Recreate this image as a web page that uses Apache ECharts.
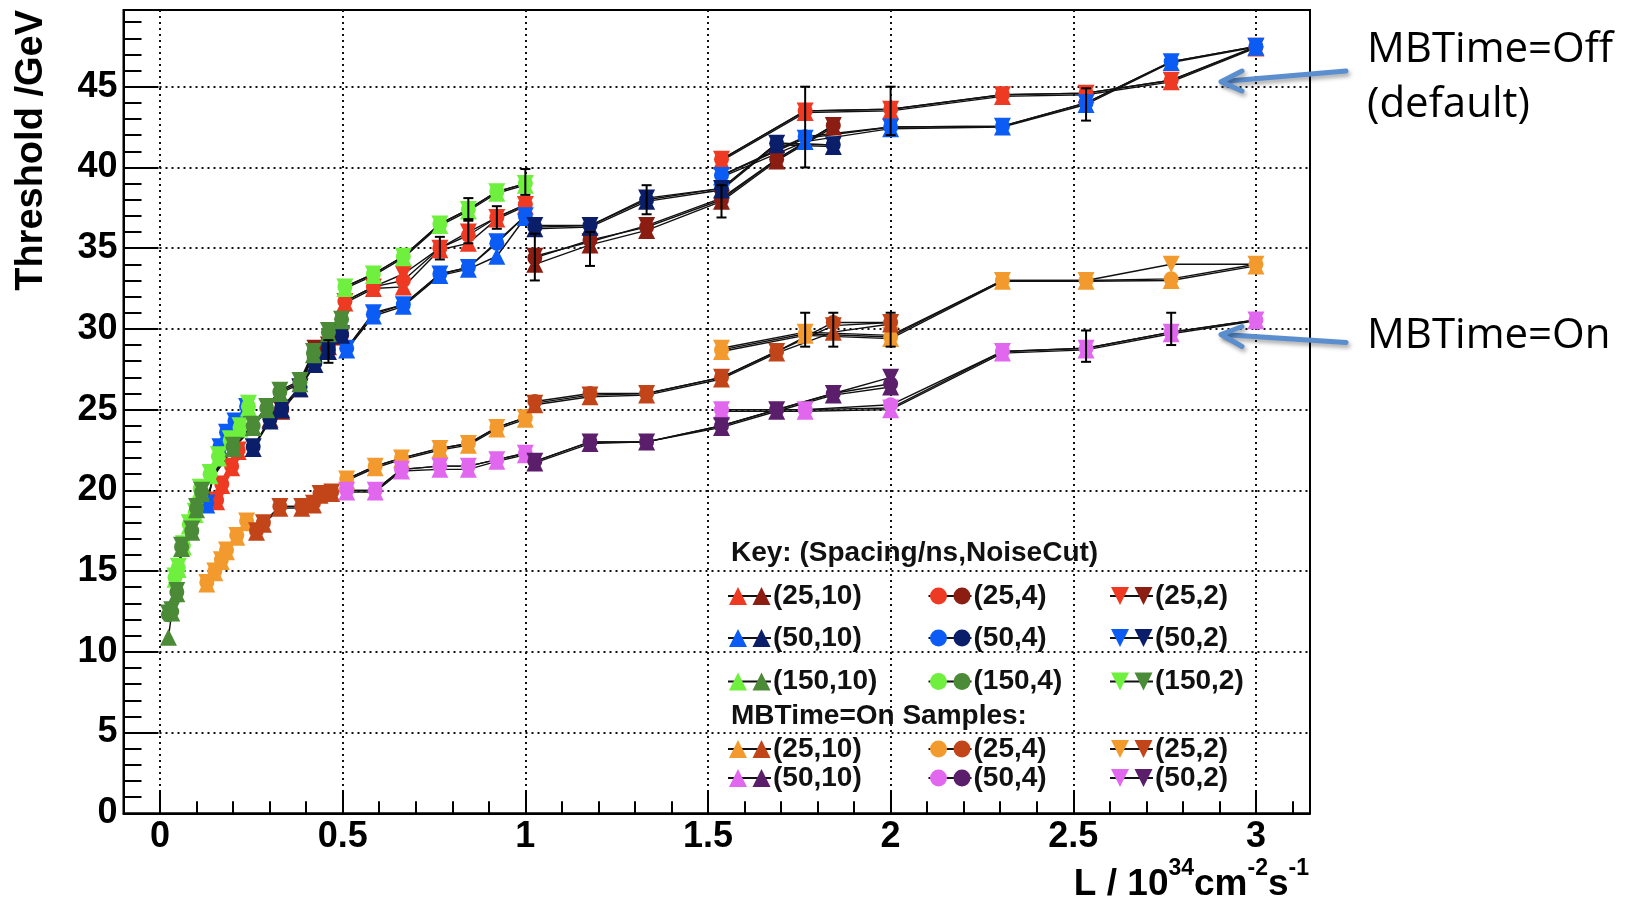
<!DOCTYPE html>
<html><head><meta charset="utf-8">
<script src="https://cdn.jsdelivr.net/npm/echarts@6/dist/echarts.min.js"></script>
<style>html,body{margin:0;padding:0;background:#fff;} #c{width:1627px;height:900px;}</style>
</head><body><div id="c"></div>
<script>
// ---------------- axis ticks ----------------
const xMajorTicks = [0, 0.5, 1, 1.5, 2, 2.5, 3];
const yMajorTicks = [0, 5, 10, 15, 20, 25, 30, 35, 40, 45];

// ---------------- MBTime=Off ----------------
// 25 ns, light (red)
const off25L_x    = [0.155, 0.169, 0.196, 0.214, null, 0.506, 0.584, 0.666, 0.766, 0.844, 0.922, 1.000, null, 1.537, 1.766, 2.000, 2.306, 2.535, 2.768, 3.000];
const off25L_up   = [19.3, 20.3, 21.4, 22.4, null, 31.6, 32.5, 32.6, 34.9, 35.3, 36.8, 37.6, null, 40.4, 43.4, 43.5, 44.4, 44.5, 45.3, 47.4];
const off25L_circ = [19.4, 20.4, 21.5, 22.5, null, 31.7, 32.6, 33.0, 35.0, 35.8, 36.9, 37.7, null, 40.5, 43.5, 43.6, 44.5, 44.6, 45.4, 47.45];
const off25L_down = [19.4, 20.4, 21.5, 22.5, null, 31.7, 32.6, 33.4, 35.0, 36.0, 36.9, 37.7, null, 40.5, 43.5, 43.6, 44.5, 44.6, 45.4, 47.5];
// 25 ns, dark (dark red)
const off25D_x    = [0.301, 0.333, 0.383, 0.424, 0.461, 0.497, null, 1.026, 1.177, 1.332, 1.537, 1.688, 1.843];
const off25D_up   = [24.4, 24.9, 26.3, 28.7, 28.9, 29.5, null, 34.0, 35.2, 36.1, 37.9, 40.4, 42.5];
const off25D_circ = [24.5, 25.0, 26.4, 28.8, 29.0, 29.6, null, 34.4, 35.5, 36.3, 38.0, 40.5, 42.6];
const off25D_down = [24.5, 25.0, 26.4, 28.8, 29.0, 29.6, null, 34.5, 35.4, 36.4, 38.1, 40.5, 42.6];
// 50 ns, light (blue)
const off50L_x    = [0.128, 0.164, 0.182, 0.205, 0.237, null, 0.511, 0.584, 0.666, 0.766, 0.844, 0.922, 1.000, null, 1.537, 1.766, 2.000, 2.306, 2.535, 2.768, 3.000];
const off50L_up   = [19.1, 22.6, 23.5, 24.2, 25.1, null, 28.7, 30.8, 31.4, 33.3, 33.7, 34.5, 36.9, null, 39.4, 41.6, 42.4, 42.5, 43.9, 46.5, 47.45];
const off50L_circ = [19.2, 22.7, 23.6, 24.3, 25.2, null, 28.8, 30.9, 31.5, 33.4, 33.8, 35.3, 37.0, null, 39.5, 41.9, 42.5, 42.55, 44.0, 46.55, 47.5];
const off50L_down = [19.2, 22.7, 23.6, 24.3, 25.2, null, 28.8, 31.0, 31.5, 33.4, 33.8, 35.4, 37.0, null, 39.5, 41.8, 42.5, 42.55, 44.0, 46.55, 47.5];
// 50 ns, dark (navy)
const off50D_x    = [0.255, 0.301, 0.333, 0.383, 0.424, 0.461, 0.497, null, 1.026, 1.177, 1.332, 1.537, 1.688, 1.843];
const off50D_up   = [22.6, 24.3, 25.0, 26.3, 27.8, 28.6, 29.6, null, 36.2, 36.3, 37.9, 38.6, 41.4, 41.3];
const off50D_circ = [22.7, 24.4, 25.1, 26.4, 27.9, 28.7, 29.7, null, 36.3, 36.4, 38.0, 38.7, 41.5, 41.4];
const off50D_down = [22.7, 24.4, 25.1, 26.4, 27.9, 28.7, 29.7, null, 36.4, 36.4, 38.1, 38.7, 41.5, 41.4];
// 150 ns, light (green)
const off150L_x    = [0.041, 0.050, 0.064, 0.080, 0.096, 0.110, 0.137, 0.160, 0.192, 0.219, 0.242, null, 0.506, 0.584, 0.666, 0.766, 0.844, 0.922, 1.000];
const off150L_up   = [14.5, 15.1, 16.5, 17.8, 18.5, 20.0, 20.9, 22.0, 23.0, 23.8, 25.1, null, 32.5, 33.3, 34.4, 36.4, 37.3, 38.4, 38.9];
const off150L_circ = [14.6, 15.2, 16.6, 17.9, 18.6, 20.1, 21.0, 22.1, 23.1, 23.9, 25.2, null, 32.6, 33.4, 34.5, 36.5, 37.4, 38.5, 39.0];
const off150L_down = [14.7, 15.3, 16.7, 18.0, 18.7, 20.2, 21.1, 22.2, 23.2, 24.0, 25.4, null, 32.6, 33.4, 34.5, 36.5, 37.4, 38.5, 39.0];
// 150 ns, dark (dark green)
const off150D_x    = [0.023, 0.032, 0.046, 0.059, 0.087, 0.100, 0.114, 0.200, 0.255, 0.292, 0.328, 0.383, 0.420, 0.461, 0.497];
const off150D_up   = [10.9, 12.4, 13.6, 16.4, 17.4, 18.8, 19.8, 22.6, 23.9, 25.0, 26.0, 26.6, 28.4, 29.7, 30.5];
const off150D_circ = [12.3, 12.5, 13.7, 16.5, 17.5, 18.9, 19.9, 22.7, 24.0, 25.1, 26.1, 26.7, 28.5, 29.8, 30.6];
const off150D_down = [12.4, 12.6, 13.8, 16.6, 17.6, 19.0, 20.0, 22.8, 24.1, 25.2, 26.2, 26.8, 28.6, 29.9, 30.6];

// ---------------- MBTime=On ----------------
// 25 ns, light (orange)
const on25L_x    = [0.128, 0.150, 0.168, 0.182, 0.210, 0.237, null, 0.511, 0.589, 0.661, 0.766, 0.844, 0.922, 1.000, null, 1.537, 1.766, 2.000, 2.306, 2.535, 2.768, 3.000];
const on25L_up   = [14.2, 14.9, 15.6, 16.2, 17.1, 18.0, null, 20.6, 21.4, 21.9, 22.5, 22.8, 23.8, 24.4, null, 28.6, 29.6, 29.4, 32.95, 32.95, 33.0, 33.9];
const on25L_circ = [14.3, 15.0, 15.7, 16.3, 17.2, 18.1, null, 20.7, 21.5, 22.0, 22.6, 22.9, 23.9, 24.5, null, 28.7, 29.7, 29.5, 33.0, 33.0, 33.1, 34.0];
const on25L_down = [14.3, 15.0, 15.7, 16.3, 17.2, 18.1, null, 20.7, 21.5, 22.0, 22.6, 22.9, 23.9, 24.5, null, 28.8, 29.8, 29.6, 33.0, 33.0, 34.0, 34.0];
// 25 ns, dark (burnt orange)
const on25D_x    = [0.264, 0.283, 0.328, 0.388, 0.420, 0.438, 0.470, null, 1.026, 1.177, 1.332, 1.537, 1.688, 1.843, 2.000];
const on25D_up   = [17.4, 17.9, 18.9, 18.9, 19.1, 19.7, 19.8, null, 25.3, 25.8, 25.9, 26.9, 28.5, 29.8, 30.3];
const on25D_circ = [17.5, 18.0, 19.0, 19.0, 19.2, 19.8, 19.9, null, 25.5, 26.0, 26.0, 27.0, 28.6, 30.4, 30.4];
const on25D_down = [17.5, 18.0, 19.0, 19.0, 19.2, 19.8, 19.9, null, 25.4, 25.9, 26.0, 27.0, 28.6, 30.2, 30.4];
// 50 ns, light (pink)
const on50L_x    = [0.511, 0.589, 0.661, 0.766, 0.844, 0.922, 1.000, null, 1.537, 1.766, 2.000, 2.306, 2.535, 2.768, 3.000];
const on50L_up   = [19.9, 19.9, 21.2, 21.3, 21.3, 21.8, 22.2, null, 24.9, 24.9, 25.0, 28.5, 28.7, 29.7, 30.5];
const on50L_circ = [20.0, 20.0, 21.3, 21.5, 21.5, 21.9, 22.3, null, 25.0, 25.0, 25.3, 28.6, 28.8, 29.8, 30.55];
const on50L_down = [20.0, 20.0, 21.3, 21.5, 21.5, 21.9, 22.3, null, 25.0, 25.0, 25.1, 28.6, 28.8, 29.8, 30.55];
// 50 ns, dark (purple)
const on50D_x    = [1.026, 1.177, 1.332, 1.537, 1.688, 1.843, 2.000];
const on50D_up   = [21.7, 22.9, 23.0, 23.9, 24.9, 25.9, 26.4];
const on50D_circ = [21.8, 23.0, 23.0, 24.0, 25.0, 26.0, 26.6];
const on50D_down = [21.8, 23.0, 23.0, 24.0, 25.0, 26.0, 27.0];

// error bars [x, low, high]
const errorBars = [
  [1.000, 38.3, 39.9], [0.844, 36.8, 38.1], [0.922, 36.2, 37.6], [0.844, 35.3, 36.7],
  [0.766, 34.3, 35.7], [1.026, 33.0, 35.9], [1.177, 33.9, 36.0], [1.332, 37.1, 38.9],
  [1.537, 36.9, 38.9], [1.766, 40.0, 45.0], [2.000, 42.0, 45.0], [2.535, 42.9, 44.9],
  [0.461, 27.9, 29.3], [1.766, 28.9, 31.0], [1.843, 28.9, 31.0], [2.000, 28.9, 31.0],
  [2.535, 27.96, 29.9], [2.768, 29.0, 31.0]
];

// legend text
const legendHeaderOff = 'Key: (Spacing/ns,NoiseCut)';
const legendHeaderOn = 'MBTime=On Samples:';
const legendLabelsOff = [['(25,10)', '(25,4)', '(25,2)'], ['(50,10)', '(50,4)', '(50,2)'], ['(150,10)', '(150,4)', '(150,2)']];
const legendLabelsOn = [['(25,10)', '(25,4)', '(25,2)'], ['(50,10)', '(50,4)', '(50,2)']];

// ---------------- styling ----------------
const COL = {
  r: '#EE3A23', rd: '#8C1D12', b: '#0B5CF5', bd: '#0A1E6A', g: '#6FEF3E', gd: '#4B8A36',
  o: '#F39A2E', od: '#C2451A', p: '#E168EE', pd: '#5A1E6B'
};
const FONT = 'Liberation Sans, Arial, Helvetica, sans-serif';

function pairs(xs, ys) {
  return xs.map((x, i) => (x === null || ys[i] === null) ? ['-', '-'] : [x, ys[i]]);
}
function mk(xs, ys, shape, color) {
  return {
    type: 'line', data: pairs(xs, ys), connectNulls: false,
    symbol: shape === 'circ' ? 'circle' : 'triangle',
    symbolRotate: shape === 'down' ? 180 : 0,
    symbolSize: shape === 'circ' ? 15 : 17,
    itemStyle: { color: color, borderWidth: 0 },
    lineStyle: { color: '#111', width: 1.4 },
    emphasis: { disabled: true }, silent: true, animation: false, z: 2
  };
}
const groups = [
  [off25L_x, off25L_up, off25L_circ, off25L_down, COL.r],
  [off25D_x, off25D_up, off25D_circ, off25D_down, COL.rd],
  [off50L_x, off50L_up, off50L_circ, off50L_down, COL.b],
  [off50D_x, off50D_up, off50D_circ, off50D_down, COL.bd],
  [off150L_x, off150L_up, off150L_circ, off150L_down, COL.g],
  [off150D_x, off150D_up, off150D_circ, off150D_down, COL.gd],
  [on25L_x, on25L_up, on25L_circ, on25L_down, COL.o],
  [on25D_x, on25D_up, on25D_circ, on25D_down, COL.od],
  [on50L_x, on50L_up, on50L_circ, on50L_down, COL.p],
  [on50D_x, on50D_up, on50D_circ, on50D_down, COL.pd]
];
const series = [];
groups.forEach(g => {
  series.push(mk(g[0], g[1], 'up', g[4]));
  series.push(mk(g[0], g[2], 'circ', g[4]));
  series.push(mk(g[0], g[3], 'down', g[4]));
});
series.push({
  type: 'custom', data: errorBars, encode: { x: 0, y: [1, 2] }, z: 5, silent: true, animation: false,
  renderItem: function (params, api) {
    const x = api.value(0), lo = api.value(1), hi = api.value(2);
    const a = api.coord([x, hi]), b = api.coord([x, lo]);
    const cw = 5, st = { stroke: '#000', lineWidth: 2 };
    return { type: 'group', children: [
      { type: 'line', shape: { x1: a[0], y1: a[1], x2: b[0], y2: b[1] }, style: st },
      { type: 'line', shape: { x1: a[0] - cw, y1: a[1], x2: a[0] + cw, y2: a[1] }, style: st },
      { type: 'line', shape: { x1: b[0] - cw, y1: b[1], x2: b[0] + cw, y2: b[1] }, style: st }
    ]};
  }
});

// ---------------- legend graphics ----------------
const graphics = [];
function legMarker(shape, cx, cy, color) {
  const h = 9;
  if (shape === 'circ') return { type: 'circle', z: 100, shape: { cx: cx, cy: cy, r: 8.5 }, style: { fill: color } };
  if (shape === 'up') return { type: 'polygon', z: 100, shape: { points: [[cx, cy - h], [cx + h, cy + h], [cx - h, cy + h]] }, style: { fill: color } };
  return { type: 'polygon', z: 100, shape: { points: [[cx - h, cy - h], [cx + h, cy - h], [cx, cy + h]] }, style: { fill: color } };
}
function legText(txt, x, y) {
  return { type: 'text', z: 100, x: x, y: y, style: { text: txt, fontFamily: FONT, fontWeight: 'bold', fontSize: 28, fill: '#111', align: 'left', verticalAlign: 'middle' } };
}
const colX = [738, 938.5, 1120];
const shapes = ['up', 'circ', 'down'];
const offRowY = [596, 638, 681.5];
const onRowY = [749, 778];
const offCols = [[COL.r, COL.rd], [COL.b, COL.bd], [COL.g, COL.gd]];
const onCols = [[COL.o, COL.od], [COL.p, COL.pd]];
graphics.push(legText(legendHeaderOff, 731, 553));
graphics.push(legText(legendHeaderOn, 731, 716.5));
function addRows(labels, rowsY, cols) {
  labels.forEach((row, ri) => {
    row.forEach((lab, ci) => {
      const cx = colX[ci], cy = rowsY[ri];
      graphics.push({ type: 'line', z: 99, shape: { x1: cx - 10, y1: cy, x2: cx + 33, y2: cy }, style: { stroke: '#111', lineWidth: 2 } });
      graphics.push(legMarker(shapes[ci], cx, cy, cols[ri][0]));
      graphics.push(legMarker(shapes[ci], cx + 23.5, cy, cols[ri][1]));
      graphics.push(legText(lab, cx + 35, cy));
    });
  });
}
addRows(legendLabelsOff, offRowY, offCols);
addRows(legendLabelsOn, onRowY, onCols);

// axis titles
graphics.push({ type: 'text', z: 100, x: 32, y: 10, rotation: Math.PI / 2,
  style: { text: 'Threshold /GeV', fontFamily: FONT, fontWeight: 'bold', fontSize: 38, fill: '#000', align: 'right', verticalAlign: 'middle' } });
graphics.push({ type: 'text', z: 100, x: 1309, y: 857,
  style: { text: '{b|L / 10}{s|34}{b|cm}{s|-2}{b|s}{s|-1}', align: 'right', verticalAlign: 'top',
    rich: {
      b: { fontFamily: FONT, fontWeight: 'bold', fontSize: 37, lineHeight: 56, fill: '#000' },
      s: { fontFamily: FONT, fontWeight: 'bold', fontSize: 23, lineHeight: 24, verticalAlign: 'top', fill: '#000' }
    } } });

// annotations
const annFont = 'Open Sans, Lato, sans-serif';
graphics.push({ type: 'text', z: 100, x: 1367, y: 29, style: { text: 'MBTime=Off', fontFamily: annFont, fontSize: 42, fill: '#000', align: 'left', verticalAlign: 'top' } });
graphics.push({ type: 'text', z: 100, x: 1367, y: 84.5, style: { text: '(default)', fontFamily: annFont, fontSize: 42, fill: '#000', align: 'left', verticalAlign: 'top' } });
graphics.push({ type: 'text', z: 100, x: 1367, y: 315.5, style: { text: 'MBTime=On', fontFamily: annFont, fontSize: 42, fill: '#000', align: 'left', verticalAlign: 'top' } });
const arrowStyle = { stroke: '#5B8ECF', lineWidth: 5, lineCap: 'round', lineJoin: 'round', fill: null,
  shadowBlur: 4, shadowColor: 'rgba(0,0,0,0.35)', shadowOffsetX: 2, shadowOffsetY: 3 };
graphics.push({ type: 'polyline', z: 100, shape: { points: [[1346, 71], [1223, 81.5]] }, style: arrowStyle });
graphics.push({ type: 'polyline', z: 100, shape: { points: [[1242, 71], [1221, 81.7], [1242, 91]] }, style: arrowStyle });
graphics.push({ type: 'polyline', z: 100, shape: { points: [[1346, 342.5], [1223, 334.5]] }, style: arrowStyle });
graphics.push({ type: 'polyline', z: 100, shape: { points: [[1242, 326.5], [1221, 334.5], [1242, 346.5]] }, style: arrowStyle });

// ---------------- chart ----------------
const gridLine = { show: true, lineStyle: { color: '#111', width: 2, type: [2, 4] } };
const tickStyle = { color: '#000', width: 2 };
function yLabel(v) {
  const r = Math.round(v);
  return (Math.abs(v - r) < 1e-6 && yMajorTicks.indexOf(r) >= 0) ? String(r) : '';
}
const option = {
  backgroundColor: '#fff',
  animation: false,
  grid: { left: 123.5, top: 10, width: 1186.5, height: 803.3, show: true, borderColor: '#000', borderWidth: 2, backgroundColor: 'transparent' },
  xAxis: [
    { type: 'value', min: -0.1, max: 3.148, position: 'bottom',
      axisLine: { show: true, onZero: false, lineStyle: { color: '#000', width: 2 } },
      axisTick: { show: true, inside: true, length: 23, lineStyle: tickStyle, customValues: xMajorTicks },
      axisLabel: { show: true, customValues: xMajorTicks, showMinLabel: true, showMaxLabel: true, hideOverlap: false, margin: 6,
        fontFamily: FONT, fontWeight: 'bold', fontSize: 36, color: '#000' },
      splitLine: gridLine },
    { type: 'value', min: -0.1, max: 3.148, interval: 0.1, position: 'bottom',
      axisLine: { show: false, onZero: false },
      axisTick: { show: true, inside: true, length: 12, lineStyle: tickStyle },
      axisLabel: { show: false }, splitLine: { show: false } }
  ],
  yAxis: [
    { type: 'value', min: 0, max: 49.75, interval: 5, position: 'left',
      axisLine: { show: true, onZero: false, lineStyle: { color: '#000', width: 2 } },
      axisTick: { show: true, inside: true, length: 35, lineStyle: tickStyle, customValues: yMajorTicks },
      axisLabel: { show: false },
      splitLine: gridLine },
    { type: 'value', min: 0, max: 49.75, interval: 1, position: 'left',
      axisLine: { show: false, onZero: false },
      axisTick: { show: true, inside: true, length: 18, lineStyle: tickStyle },
      axisLabel: { show: true, formatter: yLabel, showMinLabel: true, showMaxLabel: true, hideOverlap: false, margin: 6,
        fontFamily: FONT, fontWeight: 'bold', fontSize: 36, color: '#000' },
      splitLine: { show: false } }
  ],
  series: series,
  graphic: graphics
};
const chart = echarts.init(document.getElementById('c'), null, { renderer: 'canvas' });
chart.setOption(option);
</script></body></html>
